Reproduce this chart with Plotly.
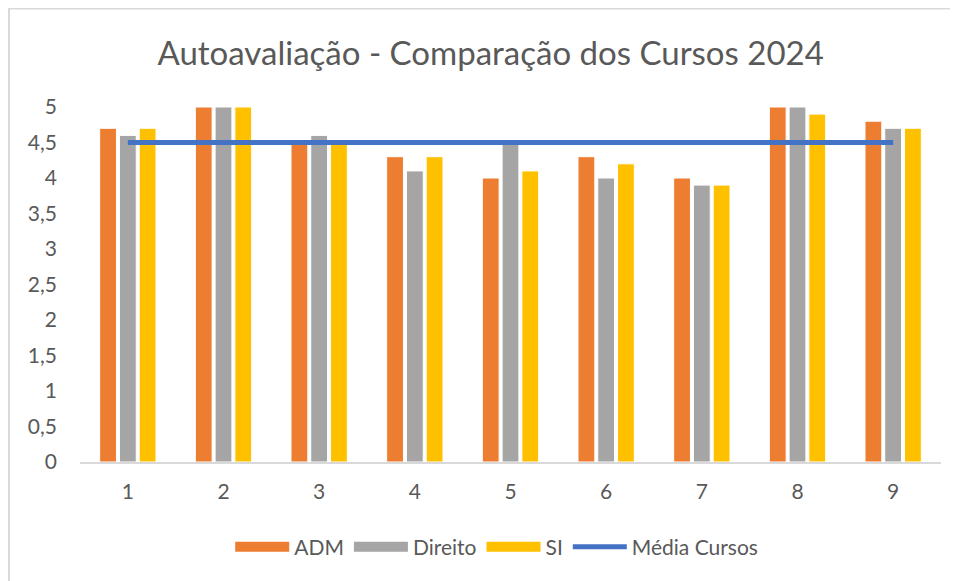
import plotly.graph_objects as go

categories = ["1", "2", "3", "4", "5", "6", "7", "8", "9"]
adm = [4.7, 5.0, 4.5, 4.3, 4.0, 4.3, 4.0, 5.0, 4.8]
direito = [4.6, 5.0, 4.6, 4.1, 4.5, 4.0, 3.9, 5.0, 4.7]
si = [4.7, 5.0, 4.5, 4.3, 4.1, 4.2, 3.9, 4.9, 4.7]
media = [4.5] * 9

FONT = "Lato"
GREY = "#595959"

fig = go.Figure()
series = [("ADM", adm, "#ED7D31"), ("Direito", direito, "#A5A5A5"), ("SI", si, "#FFC000")]
for name, vals, col in series:
    fig.add_trace(go.Bar(x=categories, y=vals, name=name, legendgroup=name, showlegend=False,
                         marker=dict(color=col, line=dict(color="white", width=1))))
fig.add_trace(go.Scatter(x=categories, y=media, name="Média Cursos", mode="lines", showlegend=False,
                         legendgroup="media", line=dict(color="#4472C4", width=5)))
# legend entries (wide swatches like the original)
for name, vals, col in series:
    fig.add_trace(go.Scatter(x=[None], y=[None], name=name, legendgroup=name, mode="lines",
                             line=dict(color=col, width=14), hoverinfo="skip"))
fig.add_trace(go.Scatter(x=[None], y=[None], name="Média Cursos", legendgroup="media", mode="lines",
                         line=dict(color="#4472C4", width=5), hoverinfo="skip"))

fig.update_layout(
    width=950, height=573,
    margin=dict(l=72, r=17, t=99, b=119),
    paper_bgcolor="white", plot_bgcolor="white",
    separators=", ",
    barmode="group", bargap=0.38, bargroupgap=0.15,
    font=dict(family=FONT, color=GREY, size=21),
    title=dict(text="Autoavaliação - Comparação dos Cursos 2024", x=0.477, xref="paper", xanchor="center",
               y=1 - 45 / 573, yref="container", yanchor="middle",
               font=dict(size=33, color=GREY, family=FONT)),
    legend=dict(orientation="h", x=0.484, xanchor="center", y=-0.24, yanchor="middle",
                font=dict(size=21, color=GREY), itemwidth=54, traceorder="normal"),
    showlegend=True,
)
fig.update_xaxes(showline=True, linecolor="#D9D9D9", linewidth=2, showgrid=False, ticks="",
                 ticklabelstandoff=10, tickfont=dict(size=21, color=GREY))
fig.update_yaxes(range=[0, 5], dtick=0.5, showgrid=False, zeroline=False, showline=False, ticks="",
                 ticklabelstandoff=22, tickfont=dict(size=21, color=GREY))

# chart border (light grey frame)
fig.add_shape(type="line", xref="paper", yref="paper", x0=(0 - 72) / 861, x1=(950 - 72) / 861,
              y0=(454 - 0.5) / 355, y1=(454 - 0.5) / 355, line=dict(color="#D9D9D9", width=2))
fig.add_shape(type="line", xref="paper", yref="paper", x0=(1 - 72) / 861, x1=(1 - 72) / 861,
              y0=(454 - 0) / 355, y1=(454 - 580) / 355, line=dict(color="#D9D9D9", width=2))

fig.write_html("out.html")
